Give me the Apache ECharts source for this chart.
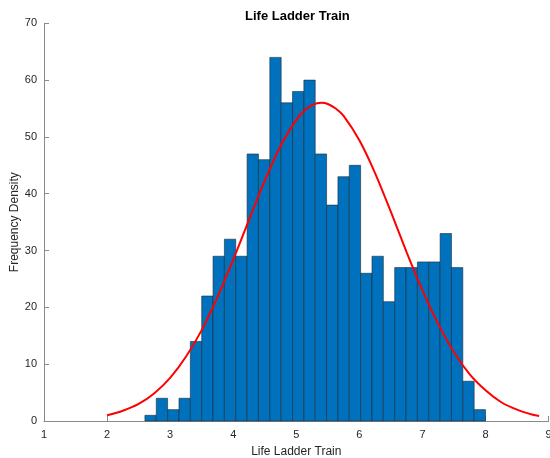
<!DOCTYPE html>
<html>
<head>
<meta charset="utf-8">
<script src="https://cdn.jsdelivr.net/npm/echarts@6/dist/echarts.min.js"></script>
<style>html,body{margin:0;padding:0;background:#fff}#c{width:550px;height:458px}</style>
</head>
<body>
<div id="c"></div>
<script>
const binEdges = [2.60,2.78,2.96,3.14,3.32,3.50,3.68,3.86,4.04,4.22,4.40,4.58,4.76,4.94,5.12,5.30,5.48,5.66,5.84,6.02,6.20,6.38,6.56,6.74,6.92,7.10,7.28,7.46,7.64,7.82,8.00];
const counts = [1,4,2,4,14,22,29,32,29,47,46,64,56,58,60,47,38,43,45,26,29,21,27,27,28,28,33,27,7,2];
const curveX = [2.0,2.25,2.5,2.75,3.0,3.25,3.5,3.75,4.0,4.25,4.5,4.75,5.0,5.125,5.25,5.4,5.5,5.625,5.75,6.0,6.25,6.5,6.75,7.0,7.25,7.5,7.75,8.0,8.25,8.5,8.75,8.85];
const curveY = [1.0,1.8,3.0,4.9,7.6,11.3,16.0,21.8,28.4,35.4,42.3,48.4,53.0,54.6,55.6,56.0,55.8,55.0,53.7,49.4,43.6,36.8,29.7,23.0,17.1,12.1,8.2,5.4,3.3,2.0,1.1,0.9];
const xTicks = [1,2,3,4,5,6,7,8,9];
const yTicks = [0,10,20,30,40,50,60,70];

const barData = counts.map((c, i) => [binEdges[i], binEdges[i + 1], c]);
const lineData = curveX.map((x, i) => [x, curveY[i]]);

const FONT = '"Liberation Sans", Helvetica, Arial, sans-serif';
const chart = echarts.init(document.getElementById('c'), null, {renderer: 'canvas'});
chart.setOption({
  animation: false,
  backgroundColor: '#fff',
  title: {
    text: 'Life Ladder Train',
    left: 240, top: 5,
    textStyle: {fontFamily: FONT, fontSize: 13, fontWeight: 'bold', color: '#000'}
  },
  grid: {left: 44, right: 1.4, top: 23.3, bottom: 37, containLabel: false, outerBoundsMode: 'none'},
  xAxis: {
    type: 'value', min: xTicks[0], max: xTicks[xTicks.length - 1], interval: 1,
    name: 'Life Ladder Train', nameLocation: 'middle', nameGap: 25, nameMoveOverlap: false,
    nameTextStyle: {fontFamily: FONT, fontSize: 12, color: '#262626'},
    axisLine: {show: true, onZero: false, lineStyle: {color: '#8a8a8a', width: 1}},
    axisTick: {show: true, inside: true, length: 5, lineStyle: {color: '#8a8a8a'}},
    axisLabel: {fontFamily: FONT, fontSize: 11, color: '#262626', margin: 8, showMaxLabel: true, showMinLabel: true},
    splitLine: {show: false}
  },
  yAxis: {
    type: 'value', min: yTicks[0], max: yTicks[yTicks.length - 1], interval: 10,
    name: 'Frequency Density', nameLocation: 'middle', nameGap: 23, nameRotate: 90, nameMoveOverlap: false,
    nameTextStyle: {fontFamily: FONT, fontSize: 12, color: '#262626'},
    axisLine: {show: true, lineStyle: {color: '#8a8a8a', width: 1}},
    axisTick: {show: true, inside: true, length: 5, lineStyle: {color: '#8a8a8a'}},
    axisLabel: {fontFamily: FONT, fontSize: 11, color: '#262626', margin: 7},
    splitLine: {show: false}
  },
  series: [
    {
      type: 'custom',
      data: barData,
      encode: {x: [0, 1], y: 2},
      renderItem: function (params, api) {
        const p0 = api.coord([api.value(0), api.value(2)]);
        const p1 = api.coord([api.value(1), 0]);
        return {
          type: 'rect',
          shape: {x: p0[0], y: p0[1], width: p1[0] - p0[0], height: p1[1] - p0[1]},
          style: {fill: '#0072BD', stroke: '#1f2a35', lineWidth: 0.6}
        };
      },
      z: 2
    },
    {
      type: 'line',
      data: lineData,
      smooth: 0.3,
      showSymbol: false,
      lineStyle: {color: '#FF0000', width: 2},
      z: 3
    }
  ]
});
</script>
</body>
</html>
